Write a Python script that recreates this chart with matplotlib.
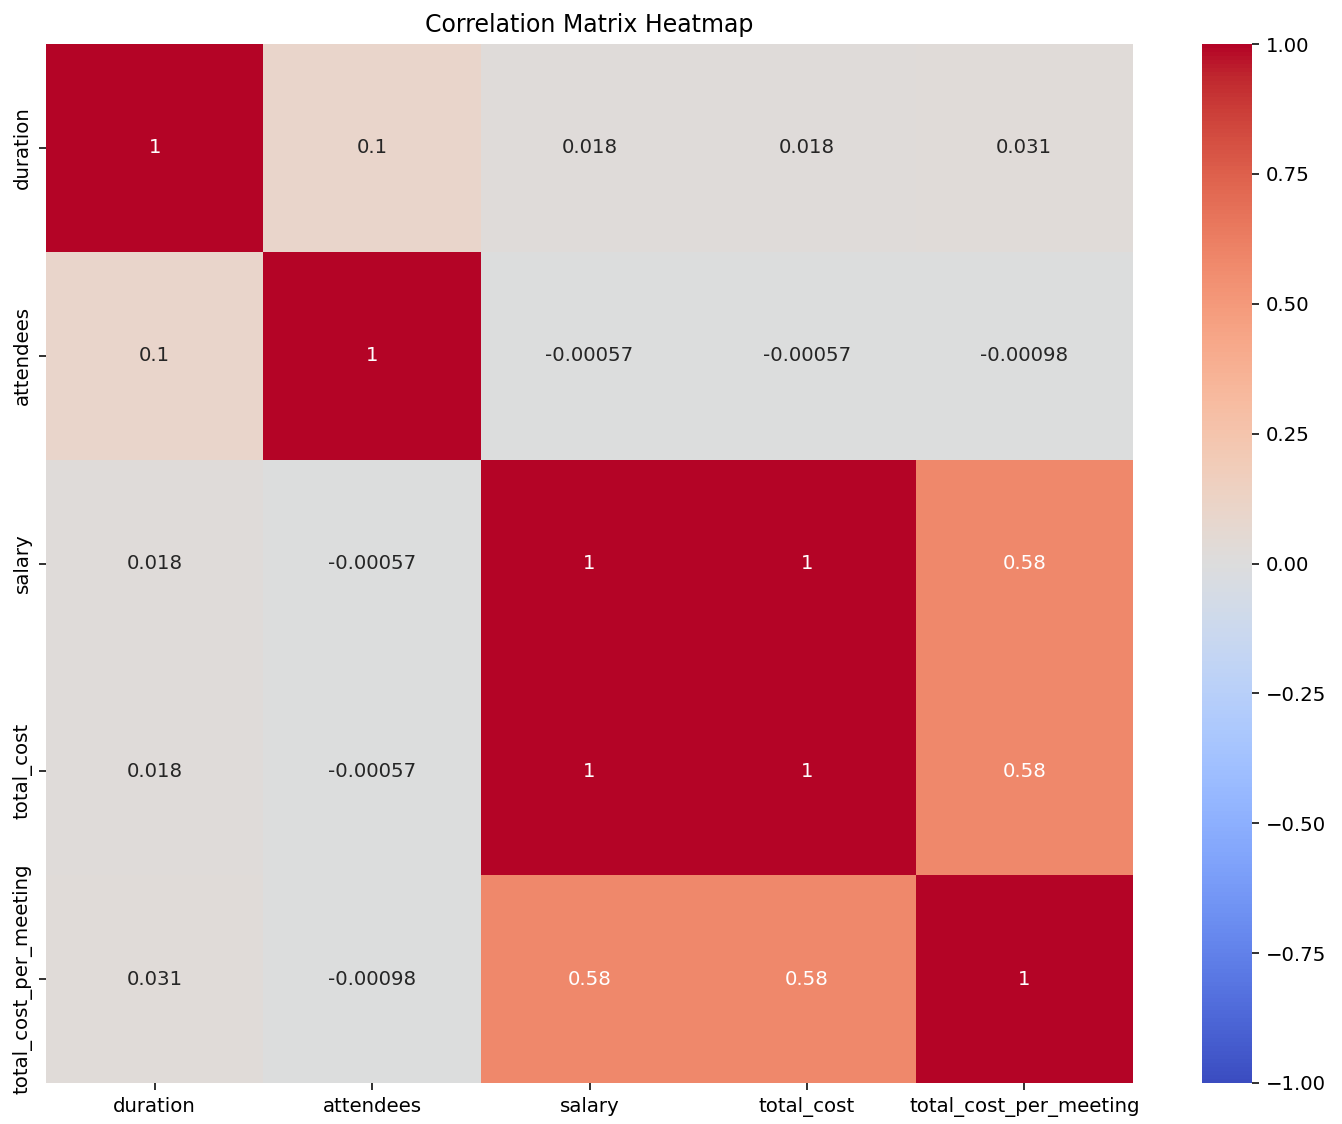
import numpy as np
import pandas as pd
import matplotlib
matplotlib.use("Agg")
import matplotlib.pyplot as plt
import seaborn as sns

labels = ["duration", "attendees", "salary", "total_cost", "total_cost_per_meeting"]
row_duration = [1.0, 0.1, 0.018, 0.018, 0.031]
row_attendees = [0.1, 1.0, -0.00057, -0.00057, -0.00098]
row_salary = [0.018, -0.00057, 1.0, 1.0, 0.58]
row_total_cost = [0.018, -0.00057, 1.0, 1.0, 0.58]
row_tcpm = [0.031, -0.00098, 0.58, 0.58, 1.0]

corr = pd.DataFrame([row_duration, row_attendees, row_salary, row_total_cost, row_tcpm],
                    index=labels, columns=labels)

s = 1.42
fig = plt.figure(figsize=(13.42, 11.24), dpi=100)
ax = fig.add_axes([46/1342, 1 - 1083/1124, (1133-46)/1342, (1083-44)/1124])
cax = fig.add_axes([1202/1342, 1 - 1083/1124, 50/1342, (1083-44)/1124])
sns.heatmap(corr, annot=True, cmap="coolwarm", vmin=-1, vmax=1, ax=ax, cbar_ax=cax,
            annot_kws={"fontsize": 10 * s})
ax.set_title("Correlation Matrix Heatmap", fontsize=12 * s, pad=6 * s)
ax.tick_params(labelsize=10 * s, length=3.5 * s, width=0.8 * s, pad=3.5 * s)
cax.tick_params(labelsize=10 * s, length=3.5 * s, width=0.8 * s, pad=3.5 * s)
cax.set_yticks([-1, -0.75, -0.5, -0.25, 0, 0.25, 0.5, 0.75, 1.0])
cax.set_yticklabels(["\u22121.00", "\u22120.75", "\u22120.50", "\u22120.25", "0.00", "0.25", "0.50", "0.75", "1.00"])
fig.savefig("out.png", dpi=100)
